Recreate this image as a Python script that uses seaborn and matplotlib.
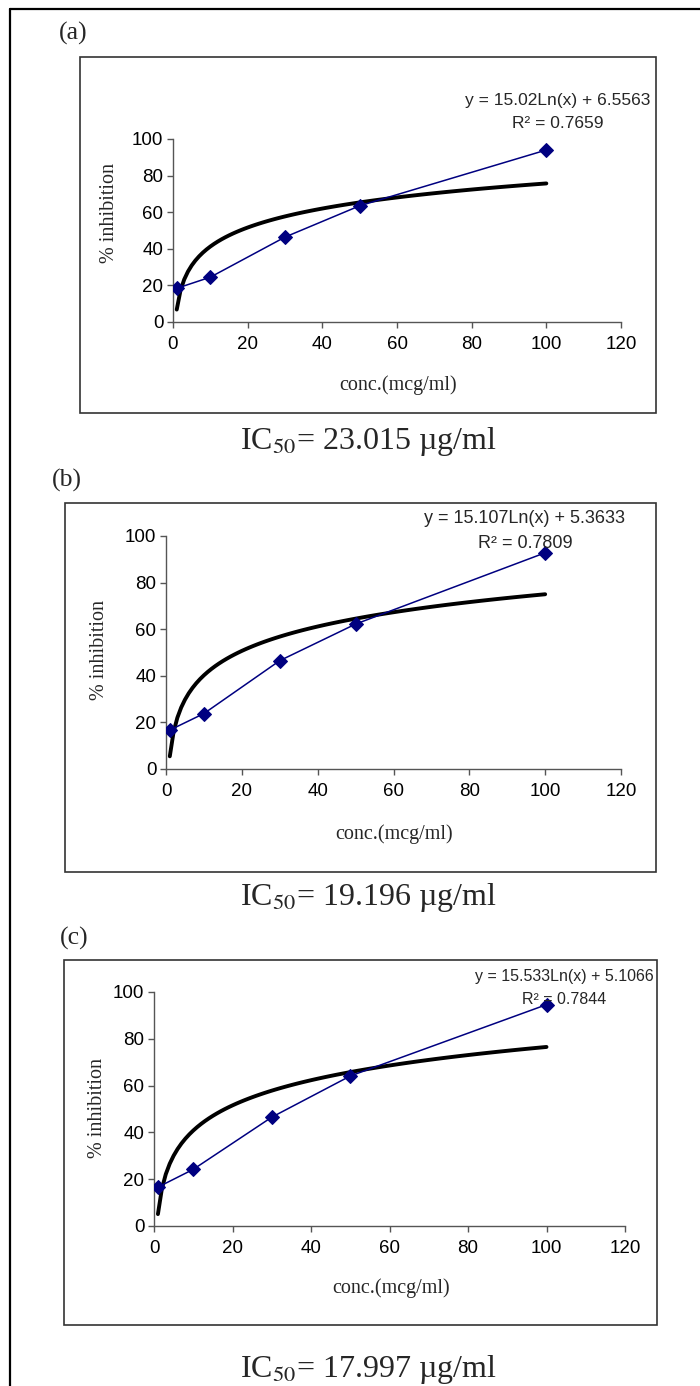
import numpy as np
import pandas as pd
import matplotlib.pyplot as plt
import seaborn as sns
from matplotlib.patches import Rectangle
from matplotlib.lines import Line2D

# Style first, fonts after (set_style resets font.family)
sns.set_style("ticks")
plt.rcParams['font.family'] = ['Liberation Sans', 'DejaVu Sans']
plt.rcParams['mathtext.fontset'] = 'stix'

# Data
conc = [1, 10, 30, 50, 100]
inhib_a = [18.4, 24.5, 46.4, 63.5, 94.0]
inhib_b = [16.7, 23.8, 46.5, 62.2, 92.8]
inhib_c = [16.6, 24.2, 46.5, 64.1, 94.6]

panel_labels = ['(a)', '(b)', '(c)']
equations = ['y = 15.02Ln(x) + 6.5563',
             'y = 15.107Ln(x) + 5.3633',
             'y = 15.533Ln(x) + 5.1066']
r2_values = ['0.7659', '0.7809', '0.7844']
ic50_values = ['23.015', '19.196', '17.997']
x_ticks = [0, 20, 40, 60, 80, 100, 120]
y_ticks = [0, 20, 40, 60, 80, 100]

# Layout in pixels of the 700x1386 picture
W, H = 700, 1386
axes_px = [(173, 621, 139, 322), (166, 621, 536, 769), (154, 625, 992, 1226)]
box_px = [(80, 656, 57, 413), (65, 656, 503, 872), (64, 657, 960, 1325)]
label_px = [(73, 33), (67, 480), (74, 938)]
eq_px = [(558, 100, 124, 12.5), (525, 519, 543, 13), (564, 977, 999, 11.5)]
ylab_px = [(110, 213), (100, 650), (97, 1108)]
xlab_px = [(398, 385), (394, 834), (391, 1288)]
ic50_y = [442, 898, 1370]


def fx(px):
    return px / W


def fy(py):
    return 1 - py / H


fig = plt.figure(figsize=(7, 13.86), dpi=100)
fig.patch.set_facecolor('white')

# outer frame (only left and top edges show in the picture)
fig.add_artist(Line2D([fx(10), fx(10)], [fy(9), fy(H)], color='black', lw=1.6,
                      transform=fig.transFigure))
fig.add_artist(Line2D([fx(10), fx(W)], [fy(9), fy(9)], color='black', lw=1.6,
                      transform=fig.transFigure))

series = [inhib_a, inhib_b, inhib_c]

for i, inhib in enumerate(series):
    l, r, t, b = axes_px[i]
    ax = fig.add_axes([fx(l), fy(b), fx(r - l), (b - t) / H])

    df = pd.DataFrame({'conc': conc, 'inhib': inhib})

    # logarithmic trendline
    sns.regplot(data=df, x='conc', y='inhib', logx=True, ci=None, scatter=False,
                color='black', line_kws={'linewidth': 2.8, 'zorder': 2}, ax=ax)
    # measured points
    sns.lineplot(data=df, x='conc', y='inhib', marker='D', color='#000080',
                 markersize=7, markeredgecolor='#000080', linewidth=1.1,
                 zorder=3, ax=ax)

    ax.set_xlim(0, 120)
    ax.set_ylim(0, 100)
    ax.set_xticks(x_ticks)
    ax.set_yticks(y_ticks)
    ax.set_facecolor('white')
    sns.despine(ax=ax)
    for s in ['left', 'bottom']:
        ax.spines[s].set_color('#555555')
        ax.spines[s].set_linewidth(1.0)
    ax.tick_params(axis='both', direction='out', length=4, width=1,
                   color='#555555', labelsize=13.5, labelcolor='black')
    ax.tick_params(axis='x', pad=6)
    ax.tick_params(axis='y', pad=3)

    ax.set_xlabel('conc.(mcg/ml)', family=['Liberation Serif', 'DejaVu Serif'],
                  fontsize=14.5, va='center')
    xl, yl = xlab_px[i]
    ax.xaxis.set_label_coords((xl - l) / (r - l), (b - yl) / (b - t))
    ax.set_ylabel('% inhibition', family=['Liberation Serif', 'DejaVu Serif'],
                  fontsize=14.5, va='center')
    xl, yl = ylab_px[i]
    ax.yaxis.set_label_coords((xl - l) / (r - l), (b - yl) / (b - t))

    # frame around the chart
    bl, br, bt, bb = box_px[i]
    fig.add_artist(Rectangle((fx(bl), fy(bb)), fx(br - bl), (bb - bt) / H,
                             fill=False, edgecolor='#333333', lw=1.2,
                             transform=fig.transFigure))

    # trendline equation and R squared
    cx, ey, ry, fs = eq_px[i]
    fig.text(fx(cx), fy(ey), equations[i], ha='center', va='center', fontsize=fs)
    fig.text(fx(cx), fy(ry), 'R² = ' + r2_values[i], ha='center', va='center',
             fontsize=fs)

    # panel letter and IC50
    px, py = label_px[i]
    fig.text(fx(px), fy(py), panel_labels[i], ha='center', va='center',
             fontsize=18.5, family=['Liberation Serif', 'DejaVu Serif'])
    fig.text(fx(368), fy(ic50_y[i]), 'IC$_{50}$= ' + ic50_values[i] + ' µg/ml',
             ha='center', va='center', fontsize=23,
             family=['Liberation Serif', 'DejaVu Serif'])

fig.savefig('out.png', dpi=100, facecolor='white')
